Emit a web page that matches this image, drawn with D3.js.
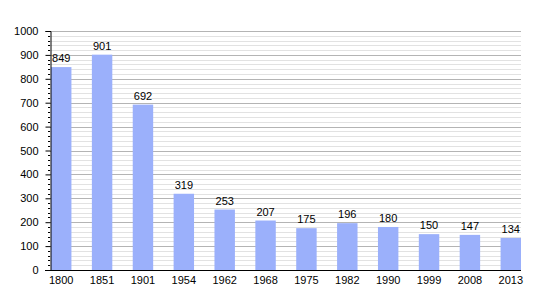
<!DOCTYPE html>
<html><head><meta charset="utf-8">
<script src="https://cdn.jsdelivr.net/npm/d3@7"></script>
<style>body{margin:0;background:#fff}svg{display:block}text{font-family:"Liberation Sans",Arial,sans-serif}</style>
</head><body><svg id="c" width="550" height="300"></svg>
<script>
const years = ["1800","1851","1901","1954","1962","1968","1975","1982","1990","1999","2008","2013"];
const population = [849,901,692,319,253,207,175,196,180,150,147,134];
const yTicks = [0,100,200,300,400,500,600,700,800,900,1000];

(function(){
const svg = d3.select("#c");
const mLeft = 50, mRight = 521, mTop = 31, mBottom = 270;
const x = d3.scaleBand().domain(years).range([mLeft+1, mRight]).paddingInner(0.5).paddingOuter(0).align(0);
const y = d3.scaleLinear().domain([0,1000]).range([mBottom, mTop]);

const minor = d3.range(0,1001,20).filter(v => v % 100 !== 0);
svg.append("g").selectAll("line").data(minor).join("line")
  .attr("x1", mLeft).attr("x2", mRight)
  .attr("y1", d => Math.round(y(d))+0.5).attr("y2", d => Math.round(y(d))+0.5)
  .attr("stroke", "#e2e2e2");
svg.append("g").selectAll("line").data(yTicks.slice(1)).join("line")
  .attr("x1", mLeft).attr("x2", mRight)
  .attr("y1", d => Math.round(y(d))+0.5).attr("y2", d => Math.round(y(d))+0.5)
  .attr("stroke", "#b4b4b4");

svg.append("g").selectAll("rect").data(population).join("rect")
  .attr("x", (d,i) => x(years[i])).attr("width", x.bandwidth())
  .attr("y", d => y(d)).attr("height", d => mBottom - y(d))
  .attr("fill", "#9bb0fb");

svg.append("g").selectAll("text").data(population).join("text")
  .attr("x", (d,i) => x(years[i]) + x.bandwidth()/2)
  .attr("y", d => y(d) - 5)
  .attr("text-anchor", "middle").attr("font-size", 11).attr("fill", "#000")
  .text(d => d);

const yAxis = svg.append("g").attr("transform", `translate(${mLeft+0.5},0)`)
  .call(d3.axisLeft(y).tickValues(yTicks).tickFormat(d3.format("d")).tickSize(5).tickPadding(7));
yAxis.select(".domain").attr("stroke", "#000");
yAxis.selectAll("text").attr("font-size", 11).attr("font-family", '"Liberation Sans",Arial,sans-serif');
yAxis.selectAll(".tick line").attr("stroke", "#000");
svg.append("g").selectAll("line").data(minor).join("line")
  .attr("x1", mLeft-2).attr("x2", mLeft)
  .attr("y1", d => Math.round(y(d))+0.5).attr("y2", d => Math.round(y(d))+0.5)
  .attr("stroke", "#000");

const xAxis = svg.append("g").attr("transform", `translate(0,${mBottom+0.5})`)
  .call(d3.axisBottom(x).tickSize(0).tickPadding(6));
xAxis.select(".domain").attr("d", `M${mLeft-5},0H${mRight}`).attr("stroke", "#000");
xAxis.selectAll("text").attr("font-size", 11).attr("font-family", '"Liberation Sans",Arial,sans-serif');
})();
</script></body></html>
